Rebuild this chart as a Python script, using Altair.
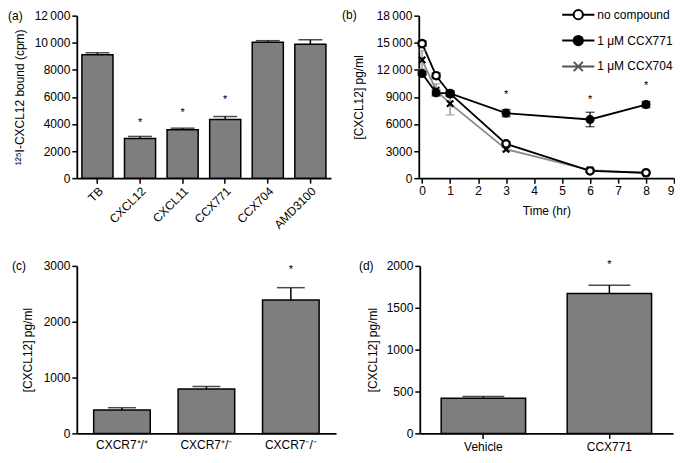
import altair as alt
import pandas as pd

FONT = "Liberation Sans"
GRAY = "#7e7e7e"

# ---------- panel (a) ----------
a_cats = ["TB", "CXCL12", "CXCL11", "CCX771", "CCX704", "AMD3100"]
a_vals = [9120, 2920, 3580, 4340, 10030, 9890]
a_errs = [140, 160, 110, 210, 120, 330]
a_star_cats = ["CXCL12", "CXCL11", "CCX771"]
a_star_y = [4050, 4810, 5760]
a_ticks = [0, 2000, 4000, 6000, 8000, 10000, 12000]

# ---------- panel (b) ----------
b_series = ["no compound", "1 \u03bcM CCX771", "1 \u03bcM CCX704"]
b_times = [0, 0.5, 1, 3, 6, 8]
b_nocomp = [14900, 11350, 9350, 3800, 800, 600]
b_nocomp_err = [300, 300, 250, 200, 150, 100]
b_ccx771 = [11600, 9450, 9400, 7200, 6500, 8150]
b_ccx771_err = [200, 300, 300, 400, 800, 350]
b_ccx704 = [13100, 9750, 8250, 3200, 900, 550]
b_ccx704_err = [1000, 700, 1250, 200, 200, 150]
b_star_t = [3, 6, 8]
b_star_y = [9260, 8630, 10250]
b_yticks = [0, 3000, 6000, 9000, 12000, 15000, 18000]
b_xticks = [0, 1, 2, 3, 4, 5, 6, 7, 8, 9]

# ---------- panel (c) ----------
c_cats = ["CXCR7\u207a/\u207a", "CXCR7\u207a/\u207b", "CXCR7\u207b/\u207b"]
c_vals = [420, 795, 2390]
c_errs = [40, 45, 220]
c_star_cat = ["CXCR7\u207b/\u207b"]
c_star_y = [2935]
c_ticks = [0, 1000, 2000, 3000]

# ---------- panel (d) ----------
d_cats = ["Vehicle", "CCX771"]
d_vals = [420, 1670]
d_errs = [20, 100]
d_star_cat = ["CCX771"]
d_star_y = [2015]
d_ticks = [0, 500, 1000, 1500, 2000]

LABEL_EXPR = ("datum.value >= 10000 ? replace(format(datum.value, ','), ',', '\u2009')"
              " : format(datum.value, 'd')")


def panel_label(text, dx, dy):
    return alt.Chart(pd.DataFrame({"t": [text]})).mark_text(
        align="left", baseline="middle", font=FONT, fontSize=12, color="black"
    ).encode(x=alt.value(dx), y=alt.value(dy), text="t:N")


def bar_panel(cats, vals, errs, star_cats, star_y, ticks, ytitle, w, h,
              pin, pout, cap, xaxis, ytitle_pad, lab, lab_dx, ymax):
    df = pd.DataFrame({"cat": cats, "val": vals, "err": errs})
    df["top"] = df["val"] + df["err"]
    sdf = pd.DataFrame({"cat": star_cats, "sy": star_y, "s": ["*"] * len(star_cats)})
    xs = alt.Scale(domain=cats, paddingInner=pin, paddingOuter=pout)
    yaxis = alt.Axis(values=ticks, labelExpr=LABEL_EXPR, title=ytitle,
                     titlePadding=ytitle_pad)
    ys = alt.Scale(domain=[0, ymax], nice=False)
    x = alt.X("cat:N", sort=cats, scale=xs, axis=xaxis, title=None)
    bars = alt.Chart(df).mark_bar(color=GRAY, stroke="black", strokeWidth=1.5).encode(
        x=x, y=alt.Y("val:Q", scale=ys, axis=yaxis, title=ytitle))
    rule = alt.Chart(df).mark_rule(color="black", strokeWidth=1.5).encode(
        x=x, y=alt.Y("val:Q", scale=ys, axis=yaxis, title=ytitle), y2="top:Q")
    caps = alt.Chart(df).mark_tick(color="black", thickness=1.5, size=cap).encode(
        x=x, y=alt.Y("top:Q", scale=ys, axis=yaxis, title=ytitle))
    stars = alt.Chart(sdf).mark_text(font=FONT, fontSize=11, baseline="middle",
                                     color="black").encode(
        x=x, y=alt.Y("sy:Q", scale=ys, axis=yaxis, title=ytitle), text="s:N")
    return alt.layer(bars, rule, caps, stars, panel_label(lab, lab_dx, 0)).properties(
        width=w, height=h)


H1 = 163
H2 = 168

pa = bar_panel(
    a_cats, a_vals, a_errs, a_star_cats, a_star_y, a_ticks,
    "\u00b9\u00b2\u2075I-CXCL12 bound (cpm)", 255, H1, 0.27, 0.12, 24,
    alt.Axis(labelAngle=-45, ticks=True, labelPadding=2), 8, "(a)", -69, 12000)

pc = bar_panel(
    c_cats, c_vals, c_errs, c_star_cat, c_star_y, c_ticks,
    "[CXCL12] pg/ml", 260, H2, 0.33, 0.2, 28,
    alt.Axis(labelAngle=0, ticks=False, labelPadding=6), 9, "(c)", -65, 3000)

pd_ = bar_panel(
    d_cats, d_vals, d_errs, d_star_cat, d_star_y, d_ticks,
    "[CXCL12] pg/ml", 254, H2, 0.33, 0.17, 42,
    alt.Axis(labelAngle=0, ticks=True, labelPadding=3), 7, "(d)", -61, 2000)

# ---------- panel (b) build ----------
rows = []
for s, vals, errs in [(b_series[2], b_ccx704, b_ccx704_err),
                      (b_series[0], b_nocomp, b_nocomp_err),
                      (b_series[1], b_ccx771, b_ccx771_err)]:
    for t, v, e in zip(b_times, vals, errs):
        rows.append({"series": s, "t": t, "v": v, "lo": v - e, "hi": v + e})
dfb = pd.DataFrame(rows)
sdfb = pd.DataFrame({"t": b_star_t, "sy": b_star_y, "s": ["*"] * 3})

bx = alt.X("t:Q", scale=alt.Scale(domain=[-0.12, 9], nice=False),
           axis=alt.Axis(values=b_xticks, format="d", titlePadding=9), title="Time (hr)")
bys = alt.Scale(domain=[0, 18000], nice=False)
byaxis = alt.Axis(values=b_yticks, labelExpr=LABEL_EXPR, titlePadding=11)
BT = "[CXCL12] pg/ml"
line_color = alt.Color("series:N", scale=alt.Scale(domain=b_series,
                       range=["black", "black", "#8c8c8c"]), legend=None)

lines = alt.Chart(dfb).mark_line(strokeWidth=1.8).encode(
    x=bx, y=alt.Y("v:Q", scale=bys, axis=byaxis, title=BT), color=line_color,
    order=alt.Order("t:Q"))
erule = alt.Chart(dfb).mark_rule(strokeWidth=1.3).encode(
    x=bx, y=alt.Y("lo:Q", scale=bys, axis=byaxis, title=BT), y2="hi:Q", color=line_color)
ecap_hi = alt.Chart(dfb).mark_tick(orient="horizontal", size=9, thickness=1.3).encode(
    x=bx, y=alt.Y("hi:Q", scale=bys, axis=byaxis, title=BT), color=line_color)
ecap_lo = alt.Chart(dfb).mark_tick(orient="horizontal", size=9, thickness=1.3).encode(
    x=bx, y=alt.Y("lo:Q", scale=bys, axis=byaxis, title=BT), color=line_color)

XPATH = "M-1,-1L1,1M-1,1L1,-1"
pts = alt.Chart(dfb).mark_point(filled=True, stroke="black", strokeWidth=2.2, opacity=1).encode(
    x=bx, y=alt.Y("v:Q", scale=bys, axis=byaxis, title=BT),
    shape=alt.Shape("series:N", scale=alt.Scale(domain=b_series,
                    range=["circle", "circle", XPATH]), legend=None),
    fill=alt.Fill("series:N", scale=alt.Scale(domain=b_series,
                  range=["white", "black", "black"]), legend=None),
    size=alt.Size("series:N", scale=alt.Scale(domain=b_series, range=[55, 40, 90]),
                  legend=None),
)

LEG_O = "M-3.5,0L-1,0M1,0L3.5,0M-1,0A1,1 0 1,0 1,0A1,1 0 1,0 -1,0"
LEG_X = "M-3.5,0L3.5,0M-1,-1L1,1M-1,1L1,-1"
LEG = alt.Legend(orient="none", legendX=154, legendY=-7, title=None,
                 symbolSize=85, symbolStrokeWidth=2, labelFont=FONT,
                 labelFontSize=12, labelOffset=13, rowPadding=8, labelColor="black")
legend_layer = alt.Chart(pd.DataFrame({"lg": b_series})).transform_filter("false").mark_point(
    filled=False, strokeWidth=2, opacity=1).encode(
    shape=alt.Shape("lg:N", scale=alt.Scale(domain=b_series, range=[LEG_O, LEG_O, LEG_X]),
                    legend=LEG),
    fill=alt.Fill("lg:N", scale=alt.Scale(domain=b_series,
                  range=["white", "black", "transparent"]), legend=LEG),
    stroke=alt.Stroke("lg:N", scale=alt.Scale(domain=b_series,
                      range=["black", "black", "#555555"]), legend=LEG),
)

stars_b = alt.Chart(sdfb).mark_text(font=FONT, fontSize=11, baseline="middle",
                                    color="black").encode(
    x=bx, y=alt.Y("sy:Q", scale=bys, axis=byaxis, title=BT), text="s:N")

pb = alt.layer(lines, erule, ecap_hi, ecap_lo, pts, stars_b, legend_layer,
               panel_label("(b)", -77, -1)).resolve_scale(
    shape="independent", fill="independent", stroke="independent").properties(
    width=256, height=H1)

row1 = alt.hconcat(pa, pb, spacing=11)
row2 = alt.hconcat(pc, pd_, spacing=23)

chart = alt.vconcat(row1, row2, spacing=27).properties(padding=0).configure_view(
    stroke=None
).configure_axis(
    grid=False, domainColor="black", domainWidth=1.8, tickColor="black",
    tickWidth=1.5, tickSize=5, labelColor="black", labelFont=FONT,
    labelFontSize=12, titleFont=FONT, titleFontSize=12, titleFontWeight="normal",
    titleColor="black"
).configure_concat(spacing=12)

chart.save("out.html", embed_options={"renderer": "svg", "actions": False})
